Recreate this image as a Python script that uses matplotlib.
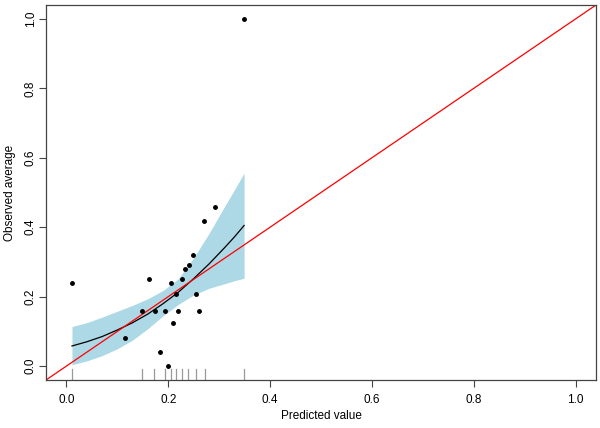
import numpy as np
import matplotlib
matplotlib.use('Agg')
import matplotlib.pyplot as plt

plt.rcParams['font.family'] = ['Liberation Sans', 'DejaVu Sans']

# observed averages vs predicted value
pred = [0.011, 0.115, 0.149, 0.162, 0.174, 0.184, 0.193, 0.200, 0.205, 0.210,
        0.215, 0.220, 0.228, 0.233, 0.240, 0.249, 0.254, 0.261, 0.271, 0.292, 0.349]
obs = [0.240, 0.082, 0.160, 0.250, 0.160, 0.040, 0.160, 0.000, 0.240, 0.125,
       0.208, 0.160, 0.250, 0.280, 0.292, 0.320, 0.208, 0.160, 0.417, 0.458, 1.000]

# rug of predicted values
rug = [0.011, 0.148, 0.173, 0.194, 0.206, 0.216, 0.228, 0.239, 0.255, 0.272, 0.349]

# fitted calibration curve and band
curve_x = [0.011, 0.04, 0.07, 0.10, 0.13, 0.16, 0.19, 0.22, 0.25, 0.28, 0.31, 0.33, 0.349]
curve_fit = [0.058, 0.070, 0.085, 0.104, 0.125, 0.150, 0.180, 0.213, 0.252, 0.294, 0.340, 0.372, 0.405]
curve_lo = [0.004, 0.015, 0.030, 0.050, 0.075, 0.108, 0.145, 0.178, 0.205, 0.224, 0.237, 0.246, 0.253]
curve_hi = [0.114, 0.125, 0.141, 0.158, 0.175, 0.194, 0.218, 0.252, 0.312, 0.382, 0.458, 0.508, 0.556]

fig = plt.figure(figsize=(6, 4.28), dpi=100)
ax = fig.add_axes([46/600, 1-380/428, 550/600, 375/428])

ax.fill_between(curve_x, curve_lo, curve_hi, color='#add8e6', lw=0)
ax.plot(curve_x, curve_fit, color='black', lw=0.9)
ax.axline((0, 0), (1, 1), color='red', lw=0.9)
ax.plot(pred, obs, 'o', color='black', ms=2.5)

for r in rug:
    ax.axvline(r, ymin=0, ymax=0.03, color='#999999', lw=0.9)

ax.set_xlim(-0.04, 1.04)
ax.set_ylim(-0.04, 1.04)
ticks = [0.0, 0.2, 0.4, 0.6, 0.8, 1.0]
ax.set_xticks(ticks)
ax.set_yticks(ticks)
ax.set_xticklabels(['%.1f' % t for t in ticks])
ax.set_yticklabels(['%.1f' % t for t in ticks], rotation=90, va='center')
ax.tick_params(length=5, width=0.8, color='#444444', labelsize=8.5)
ax.tick_params(axis='x', pad=5)
ax.tick_params(axis='y', pad=1.5)
for s in ax.spines.values():
    s.set_color('#444444')
    s.set_linewidth(0.9)

fig.text(321/600, 1-416/428, 'Predicted value', fontsize=8.5, ha='center', va='center')
fig.text(10/600, 1-192.5/428, 'Observed average', fontsize=8.5, ha='center', va='center',
         rotation=90)

fig.savefig('out.png', dpi=100)
